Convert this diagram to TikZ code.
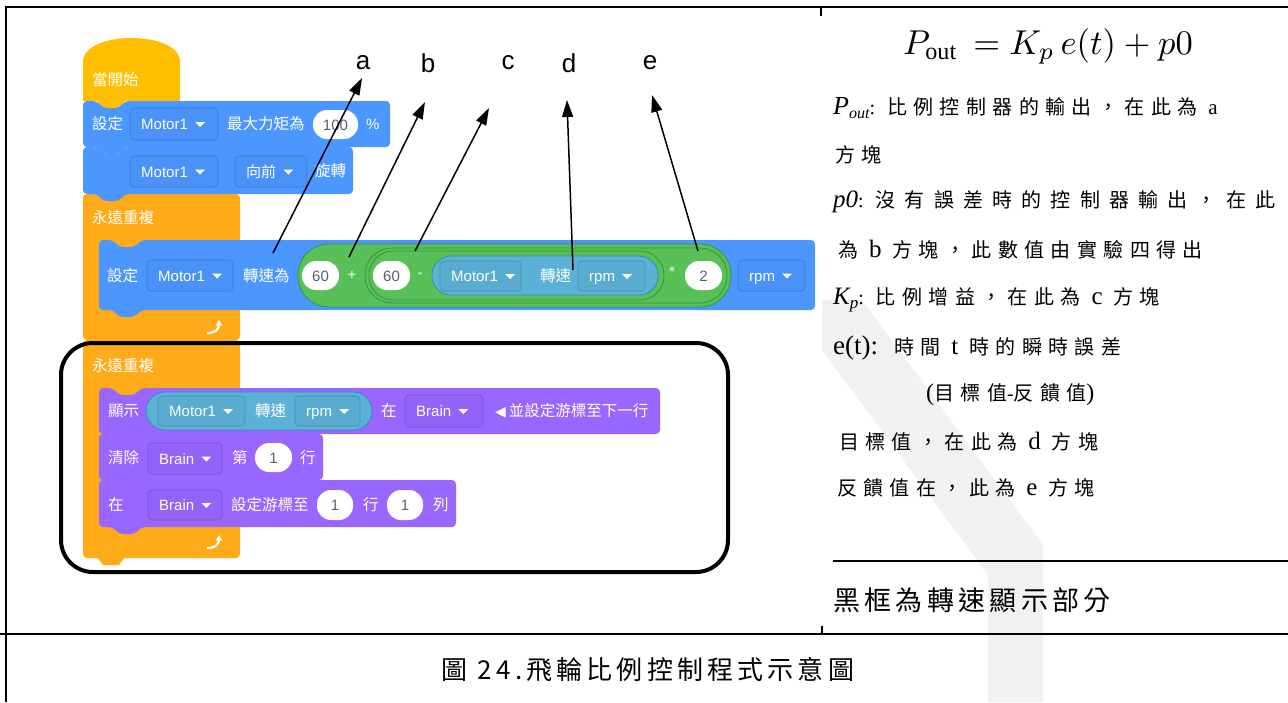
\documentclass[tikz,border=0pt]{standalone}
\usepackage{fontspec}
\setmainfont{Liberation Serif}
\newfontfamily\cjk{Noto Sans CJK TC}
\newfontfamily\cjks[LetterSpace=32]{Noto Sans CJK TC}
\newfontfamily\cjkw[LetterSpace=46]{Noto Sans CJK TC}
\newfontfamily\cjkb[LetterSpace=16]{Noto Sans CJK TC}
\newfontfamily\arial{Liberation Sans}
\newfontfamily\dejavu{DejaVu Sans}
\usetikzlibrary{arrows.meta,calc}
\definecolor{evt}{HTML}{FFBF00}
\definecolor{ctl}{HTML}{FFAB19}
\definecolor{mot}{HTML}{4C97FF}
\definecolor{op}{HTML}{59C059}
\definecolor{opd}{HTML}{389438}
\definecolor{sens}{HTML}{5CB1D6}
\definecolor{sensd}{HTML}{2E8EB8}
\definecolor{lk}{HTML}{9966FF}
\definecolor{wtxt}{HTML}{575E75}
\definecolor{wm}{HTML}{F1F1F1}
% block with top notch and bottom tab: x1 y1 x2 y2 colour
\newcommand\sblk[5]{\fill[#5, rounded corners=4pt] (#1,#2) -- (#1+14,#2) -- (#1+20,#2+7) -- (#1+36,#2+7) -- (#1+42,#2) -- (#3,#2) -- (#3,#4) -- (#1+42,#4) -- (#1+36,#4+7) -- (#1+20,#4+7) -- (#1+14,#4) -- (#1,#4) -- cycle;}
% dropdown: name x1 y1 x2 y2 colour text
\newcommand\sdd[7]{%
  \path[fill=#6!97!black, draw=#6!80!black, line width=0.6pt, rounded corners=4pt] (#2,#3) rectangle (#4,#5);
  \node[bt, anchor=west] (#1) at ({#2+11},{(#3+#5)/2}) {#7};
  \fill[white] ($(#1.east)+(7,-2)$) -- ++(10,0) -- ++(-5,5) -- cycle;}
% white oval: name x1 y1 x2 y2 text
\newcommand\sovl[6]{%
  \path[fill=white, rounded corners=14pt] (#2,#3) rectangle (#4,#5);
  \node[inner sep=0pt, text height=11pt, text depth=0pt, text=wtxt, font=\arial\fontsize{15}{17}\selectfont] (#1) at ({(#2+#4)/2},{(#3+#5)/2}) {#6};}
\newcommand\latx[1]{{\rmfamily\fontsize{25}{28}\selectfont #1}}
\begin{document}
\begin{tikzpicture}[x=1pt,y=-1pt,
  bt/.style={text=white, font=\arial\fontsize{15}{17}\selectfont, inner sep=0pt, text height=11pt, text depth=0pt},
  ct/.style={text=white, font=\cjk\fontsize{15.5}{17}\selectfont, inner sep=0pt, anchor=west, text height=12pt, text depth=1.5pt},
  opsym/.style={text=white!70!op, font=\arial\bfseries\fontsize{14}{16}\selectfont, inner sep=0pt},
  arr/.style={line width=1.5pt, -{Triangle[length=17pt,width=11pt]}},
  lbl/.style={font=\arial\fontsize{26}{30}\selectfont, inner sep=0pt},
  rt/.style={anchor=west, inner sep=0pt, font=\cjks\fontsize{20}{24}\selectfont},
  border/.style={line width=2.6pt}]
\useasboundingbox (0,0) rectangle (1288,702);
% watermark (faint)
\fill[wm] (822,300) -- (862,300) -- (1043,545) -- (1043,702) -- (988,702) -- (988,575) -- (822,350) -- cycle;
% table borders
\draw[border] (5,7) -- (1288,7);
\draw[border] (6,7) -- (6,702);
\draw[border] (821,7) -- (821,16);
\draw[border] (833,561) -- (1288,561);
\draw[border] (0,634) -- (1288,634);
\draw[line width=1.5pt] (822,626) -- (822,634);
% hat block
\fill[evt] (83,62) .. controls (83,30) and (180,30) .. (180,62) -- (180,101) -- (125,101) -- (119,108) -- (103,108) -- (97,101) -- (83,101) -- cycle;
\node[ct] (hat) at (92,80) {當開始};
% forever blocks (C shapes)
\fill[ctl, rounded corners=4pt] (83,194) rectangle (240,340);
\fill[ctl, rounded corners=4pt] (83,340) rectangle (240,558);
\fill[ctl] (97,557) -- (103,565) -- (119,565) -- (125,557) -- cycle;
\node[ct] (f1) at (92,218) {永遠重複};
\node[ct] (f2) at (92,366) {永遠重複};
\draw[white, line width=2.2pt, -{Stealth[length=6pt,width=7pt]}] (207,333) .. controls (215,333) and (219,330) .. (219,320);
\draw[white, line width=2.2pt, -{Stealth[length=6pt,width=7pt]}] (207,548) .. controls (215,548) and (219,545) .. (219,535);
% top blue blocks
\sblk{83}{101}{390}{147}{mot}
\sblk{83}{147}{353}{194}{mot}
\node[ct] (s1) at (92,124) {設定};
\sdd{d1}{130}{108}{218}{140}{mot}{Motor1}
\node[ct] (s2) at (227,124) {最大力矩為};
\sovl{o1}{313}{110}{358}{139}{100}
\node[bt, anchor=west] (s3) at (366,124) {\%};
\sdd{d2}{130}{156}{218}{187}{mot}{Motor1}
\sdd{d3}{235}{156}{307}{187}{mot}{{\cjk 向前}}
\node[ct] (s4) at (315,171) {旋轉};
% set velocity block
\sblk{99}{240}{815}{310}{mot}
\node[ct] (s5) at (107,276) {設定};
\sdd{d4}{147}{260}{233}{291}{mot}{Motor1}
\node[ct] (s6) at (243,276) {轉速為};
\path[fill=op, draw=opd, line width=0.8pt, rounded corners=31pt] (298,244) rectangle (731,307);
\path[fill=op, draw=opd, line width=0.8pt, rounded corners=27pt] (365,248) rectangle (727,303);
\path[fill=op, draw=opd, line width=0.8pt, rounded corners=24pt] (369,251) rectangle (664,300);
\sovl{o2}{302}{261}{339}{290}{60}
\node[opsym] (p1) at (352,275) {+};
\sovl{o3}{373}{261}{410}{290}{60}
\node[opsym] (m1) at (420,275) {-};
\path[fill=sens, draw=sensd, line width=0.8pt, rounded corners=19pt] (432,256) rectangle (658,295);
\sdd{d5}{440}{261}{521}{291}{sens}{Motor1}
\node[ct] (s7) at (540,276) {轉速};
\sdd{d6}{578}{261}{645}{291}{sens}{rpm}
\node[opsym] (x1) at (672,272) {*};
\sovl{o4}{685}{261}{722}{290}{2}
\sdd{d7}{738}{260}{805}{291}{mot}{rpm}
% purple blocks
\sblk{99}{388}{660}{434}{lk}
\sblk{99}{434}{323}{480}{lk}
\sblk{99}{480}{456}{527}{lk}
\node[ct] (u1) at (108,411) {顯示};
\path[fill=sens, draw=sensd, line width=0.8pt, rounded corners=19pt] (146,392) rectangle (372,430);
\sdd{d8}{158}{396}{245}{426}{sens}{Motor1}
\node[ct] (u2) at (255,411) {轉速};
\sdd{d9}{295}{396}{360}{426}{sens}{rpm}
\node[ct] (u3) at (381,411) {在};
\sdd{d10}{405}{395}{483}{427}{lk}{Brain}
\node[ct] (u4) at (495,411) {{\dejavu\fontsize{14}{15}\selectfont ◀}\hspace{3pt}並設定游標至下一行};
\node[ct] (u5) at (108,458) {清除};
\sdd{d11}{148}{443}{222}{474}{lk}{Brain}
\node[ct] (u6) at (232,458) {第};
\sovl{o5}{255}{443}{292}{472}{1}
\node[ct] (u7) at (300,458) {行};
\node[ct] (u8) at (108,505) {在};
\sdd{d12}{148}{490}{222}{520}{lk}{Brain}
\node[ct] (u9) at (231,505) {設定游標至};
\sovl{o6}{317}{490}{353}{520}{1}
\node[ct] (u10) at (363,505) {行};
\sovl{o7}{387}{490}{423}{520}{1}
\node[ct] (u11) at (433,505) {列};
% black frame
\draw[line width=4pt, rounded corners=32pt] (61,343) rectangle (728,572);
% labels and arrows
\node[lbl] (la) at (363,63) {a};
\node[lbl] (lb) at (428,63) {b};
\node[lbl] (lc) at (508,63) {c};
\node[lbl] (ld) at (569,63) {d};
\node[lbl] (le) at (650,63) {e};
\coordinate (ta) at (273,253); \coordinate (ha) at (362,78);
\coordinate (tb) at (349,257); \coordinate (hb) at (425,102);
\coordinate (tc) at (415,251); \coordinate (hc) at (489,108);
\coordinate (td) at (573,270); \coordinate (hd) at (567,100);
\coordinate (te) at (698,251); \coordinate (he) at (652,95);
\draw[arr] (ta) -- (ha);
\draw[arr] (tb) -- (hb);
\draw[arr] (tc) -- (hc);
\draw[arr] (td) -- (hd);
\draw[arr] (te) -- (he);
% right panel
\node[scale=3.45] (eq) at (1048,46) {$P_{\mathrm{out}}\,=K_p\,e(t)+p0$};
\node[rt] (r1) at (833,108) {{\rmfamily\itshape\fontsize{26}{28}\selectfont P\raisebox{-4pt}{\fontsize{16}{18}\selectfont out}}{\rmfamily\fontsize{20}{22}\selectfont :}\hspace{12pt}比例控制器的輸出，在此為 {\rmfamily\fontsize{21}{24}\selectfont a}};
\node[rt] (r2) at (835,155) {方塊};
\node[rt] (r3) at (833,202) {{\rmfamily\itshape\fontsize{25}{28}\selectfont p0}{\rmfamily\fontsize{20}{22}\selectfont :}\hspace{12pt}{\cjkw 沒有誤差時的控制器輸出，在此}};
\node[rt] (r4) at (838,250) {為 \latx{b} 方塊，此數值由實驗四得出};
\node[rt] (r5) at (833,300) {{\rmfamily\itshape\fontsize{25}{28}\selectfont K\raisebox{-4pt}{\fontsize{17}{18}\selectfont p}}{\rmfamily\fontsize{20}{22}\selectfont :}\hspace{12pt}比例增益，在此為 \latx{c} 方塊};
\node[rt] (r6) at (833,348) {{\rmfamily\fontsize{27}{30}\selectfont e(t):}\hspace{16pt}時間 \latx{t} 時的瞬時誤差};
\node[rt] (r7) at (926,395) {{\rmfamily\fontsize{24}{26}\selectfont (}目標值{\rmfamily\fontsize{20}{22}\selectfont -}反饋值{\rmfamily\fontsize{24}{26}\selectfont )}};
\node[rt] (r8) at (839,442) {目標值，在此為 \latx{d} 方塊};
\node[rt] (r9) at (837,488) {反饋值在，此為 \latx{e} 方塊};
\node[anchor=west, inner sep=0pt, font=\cjkb\fontsize{27}{30}\selectfont] (r10) at (833,600) {黑框為轉速顯示部分};
\node[inner sep=0pt, font=\cjkb\fontsize{26}{30}\selectfont] (cap) at (648,670) {圖 24.飛輪比例控制程式示意圖};
\end{tikzpicture}
\end{document}
